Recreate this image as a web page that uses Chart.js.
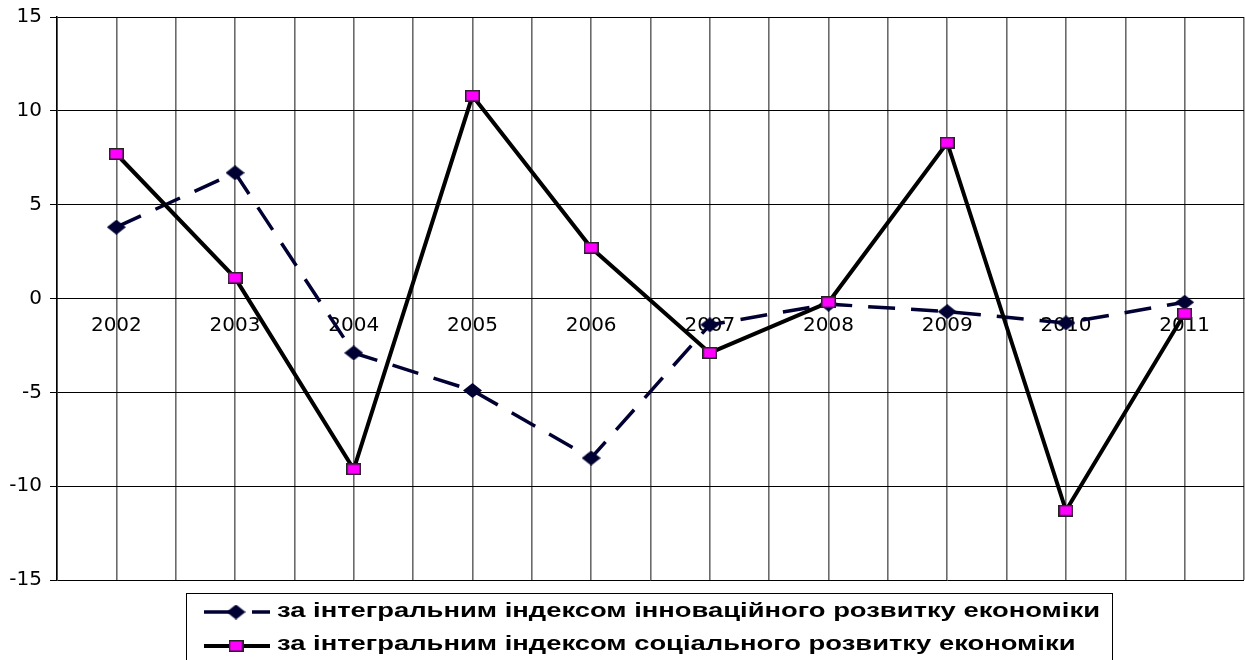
<!DOCTYPE html>
<html><head><meta charset="utf-8">
<script src="https://cdn.jsdelivr.net/npm/chart.js@4.4.1/dist/chart.umd.min.js"></script>
<style>html,body{margin:0;padding:0;background:#fff;}#wrap{width:1245px;height:660px;}</style>
</head><body><div id="wrap"><canvas id="c" width="1245" height="660"></canvas></div>
<script>
const categories = ['2002','2003','2004','2005','2006','2007','2008','2009','2010','2011'];
const innovationIndex = [3.8, 6.7, -2.9, -4.9, -8.5, -1.4, -0.3, -0.7, -1.3, -0.2];
const socialIndex = [7.7, 1.1, -9.1, 10.8, 2.7, -2.9, -0.2, 8.3, -11.3, -0.8];
const yTicks = [-15, -10, -5, 0, 5, 10, 15];
const seriesLabels = [
  'за інтегральним індексом інноваційного розвитку економіки',
  'за інтегральним індексом соціального розвитку економіки'
];

function makeDiamond(w, h, color) {
  const c = document.createElement('canvas');
  c.width = w; c.height = h;
  const g = c.getContext('2d');
  g.fillStyle = color;
  g.beginPath();
  g.moveTo(w / 2, 0); g.lineTo(w, h / 2); g.lineTo(w / 2, h); g.lineTo(0, h / 2);
  g.closePath(); g.fill();
  return c;
}
function makeSquare(w, h, fill, stroke) {
  const c = document.createElement('canvas');
  c.width = w; c.height = h;
  const g = c.getContext('2d');
  g.fillStyle = stroke; g.fillRect(0, 0, w, h);
  g.fillStyle = fill; g.fillRect(1.5, 1.5, w - 3, h - 3);
  return c;
}
const diamondImg = makeDiamond(19, 15, '#000033');
const squareImg = makeSquare(15, 12, '#FF00FF', '#222222');

const legendPlugin = {
  id: 'customLegend',
  afterDraw(chart) {
    const ctx = chart.ctx;
    ctx.save();
    ctx.strokeStyle = '#000'; ctx.lineWidth = 1;
    ctx.strokeRect(186.5, 593.5, 926, 90);
    const y1 = 612, y2 = 646;
    ctx.strokeStyle = '#000033'; ctx.lineWidth = 3.5;
    ctx.beginPath(); ctx.moveTo(204, y1); ctx.lineTo(230, y1); ctx.stroke();
    ctx.beginPath(); ctx.moveTo(252, y1); ctx.lineTo(270, y1); ctx.stroke();
    ctx.drawImage(diamondImg, 236 - 9.5, y1 - 7.5);
    ctx.strokeStyle = '#000'; ctx.lineWidth = 4;
    ctx.beginPath(); ctx.moveTo(204, y2); ctx.lineTo(270, y2); ctx.stroke();
    ctx.drawImage(squareImg, 236 - 7.5, y2 - 6);
    ctx.fillStyle = '#000';
    ctx.font = 'bold 21px "Liberation Sans", Arial, sans-serif';
    ctx.textBaseline = 'alphabetic';
    const w = ctx.measureText(seriesLabels[0]).width;
    const sx = 823 / w;
    [[seriesLabels[0], 617], [seriesLabels[1], 650]].forEach(([t, by]) => {
      ctx.save();
      ctx.translate(277, by);
      ctx.scale(sx, 1);
      ctx.fillText(t, 0, 0);
      ctx.restore();
    });
    ctx.restore();
  }
};

const ctx = document.getElementById('c').getContext('2d');
new Chart(ctx, {
  type: 'line',
  data: {
    datasets: [
      {
        label: seriesLabels[0],
        data: innovationIndex.map((v, i) => ({ x: i, y: v })),
        borderColor: '#000033', backgroundColor: '#000033',
        borderWidth: 3.5, borderDash: [27, 16], borderCapStyle: 'butt',
        pointStyle: diamondImg, pointRadius: 9, pointHoverRadius: 9,
        tension: 0, fill: false, order: 1
      },
      {
        label: seriesLabels[1],
        data: socialIndex.map((v, i) => ({ x: i, y: v })),
        borderColor: '#000000', backgroundColor: '#FF00FF',
        borderWidth: 4,
        pointStyle: squareImg, pointRadius: 8, pointHoverRadius: 8,
        tension: 0, fill: false, order: 0
      }
    ]
  },
  options: {
    responsive: false, animation: false, devicePixelRatio: 1,
    layout: { autoPadding: false, padding: { left: 0, top: 17, right: 1, bottom: 80 } },
    plugins: { legend: { display: false }, tooltip: { enabled: false } },
    scales: {
      x: {
        type: 'linear', position: { y: 0 }, min: -0.5, max: 9.5,
        afterBuildTicks: s => { s.ticks = Array.from({ length: 21 }, (_, k) => ({ value: -0.5 + k * 0.5 })); },
        afterFit: s => { s.paddingLeft = 0; s.paddingRight = 0; },
        ticks: {
          autoSkip: false, maxRotation: 0, minRotation: 0, padding: 0, color: '#000',
          font: { family: '"DejaVu Sans", sans-serif', size: 20 },
          callback: v => Number.isInteger(v) ? categories[v] : ''
        },
        grid: { color: '#6a6a6a', lineWidth: 1.6, drawTicks: true, tickLength: 15, tickColor: 'rgba(0,0,0,0)' },
        border: { display: true, color: '#000', width: 1 }
      },
      y: {
        min: yTicks[0], max: yTicks[yTicks.length - 1],
        afterBuildTicks: s => { s.ticks = yTicks.map(v => ({ value: v })); },
        afterFit: s => { s.width = 57; s.paddingTop = 0; s.paddingBottom = 0; },
        ticks: { color: '#000', padding: 8, font: { family: '"DejaVu Sans", sans-serif', size: 20 } },
        grid: { color: '#000', lineWidth: 1, tickLength: 7 },
        border: { display: true, color: '#000', width: 1.5 }
      }
    }
  },
  plugins: [legendPlugin]
});
</script>
</body></html>
